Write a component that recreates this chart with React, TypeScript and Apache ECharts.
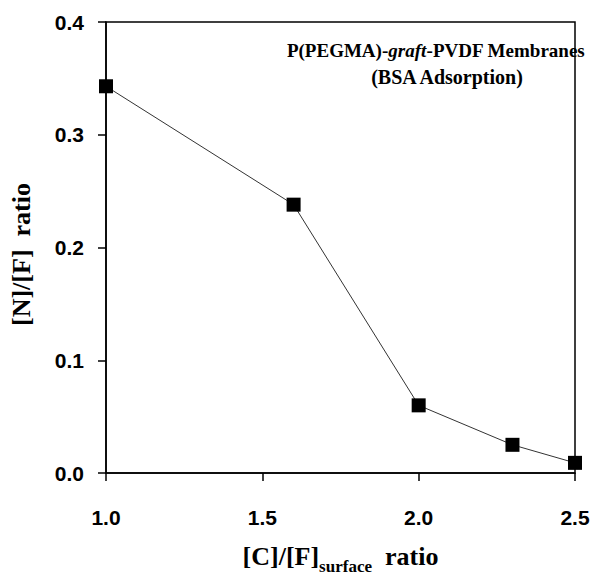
import React, { useEffect, useRef } from "react";
import * as echarts from "echarts";

const xValues = [1.0, 1.6, 2.0, 2.3, 2.5];
const yValues = [0.343, 0.238, 0.06, 0.025, 0.009];
const titleLine1 = "P(PEGMA)-{i|graft}-PVDF Membranes";
const titleLine2 = "(BSA Adsorption)";
const xName = "[C]/[F]{sub|surface}  ratio";
const yName = "[N]/[F]  ratio";

const SERIF = "'Liberation Serif', 'Times New Roman', serif";
const SANS = "'Liberation Sans', Arial, sans-serif";

export default function App() {
  const ref = useRef<HTMLDivElement>(null);
  useEffect(() => {
    if (!ref.current) return;
    const chart = echarts.init(ref.current, undefined, { renderer: "svg" });
    const data = xValues.map((x, i) => [x, yValues[i]]);
    chart.setOption({
      animation: false,
      backgroundColor: "#fff",
      title: [
        {
          text: titleLine1,
          left: 431,
          top: 36,
          textAlign: "center",
          textStyle: {
            fontFamily: SERIF,
            fontWeight: "bold",
            fontSize: 19,
            color: "#000",
            rich: {
              i: { fontFamily: SERIF, fontWeight: "bold", fontStyle: "italic", fontSize: 19, color: "#000" },
            },
          },
        },
        {
          text: titleLine2,
          left: 442,
          top: 62,
          textAlign: "center",
          textStyle: { fontFamily: SERIF, fontWeight: "bold", fontSize: 20, color: "#000" },
        },
      ],
      grid: {
        left: 95,
        right: 19,
        top: 22,
        bottom: 80,
        show: true,
        borderColor: "#000",
        borderWidth: 1.5,
        backgroundColor: "transparent",
      },
      xAxis: {
        type: "value",
        min: 1,
        max: 2.5,
        interval: 0.5,
        name: xName,
        nameLocation: "middle",
        nameGap: 64,
        nameTextStyle: {
          fontFamily: SERIF,
          fontWeight: "bold",
          fontSize: 26,
          color: "#000",
          rich: {
            sub: {
              fontFamily: SERIF,
              fontWeight: "bold",
              fontSize: 17,
              color: "#000",
              verticalAlign: "bottom",
              lineHeight: 38,
            },
          },
        },
        axisLine: { show: true, onZero: false, lineStyle: { color: "#000", width: 1.5 } },
        axisTick: { show: true, inside: false, length: 8, lineStyle: { color: "#000", width: 1.5 } },
        axisLabel: {
          margin: 34,
          fontFamily: SANS,
          fontWeight: "bold",
          fontSize: 21,
          color: "#000",
          formatter: (v: number) => v.toFixed(1),
        },
        splitLine: { show: false },
      },
      yAxis: {
        type: "value",
        min: 0,
        max: 0.4,
        interval: 0.1,
        name: yName,
        nameLocation: "middle",
        nameGap: 72,
        nameTextStyle: {
          fontFamily: SERIF,
          fontWeight: "bold",
          fontSize: 26,
          color: "#000",
          padding: [0, 14, 0, 0],
        },
        axisLine: { show: true, onZero: false, lineStyle: { color: "#000", width: 1.5 } },
        axisTick: { show: true, inside: false, length: 8, lineStyle: { color: "#000", width: 1.5 } },
        axisLabel: {
          margin: 22,
          fontFamily: SANS,
          fontWeight: "bold",
          fontSize: 21,
          color: "#000",
          formatter: (v: number) => v.toFixed(1),
        },
        splitLine: { show: false },
      },
      series: [
        {
          type: "line",
          data,
          symbol: "rect",
          symbolSize: 14,
          itemStyle: { color: "#000" },
          lineStyle: { color: "#333", width: 1 },
          z: 3,
        },
      ],
    });
    return () => chart.dispose();
  }, []);
  return (
    <div
      ref={ref}
      style={{ position: "fixed", left: 0, top: 0, width: 594, height: 580, background: "#fff" }}
    />
  );
}
